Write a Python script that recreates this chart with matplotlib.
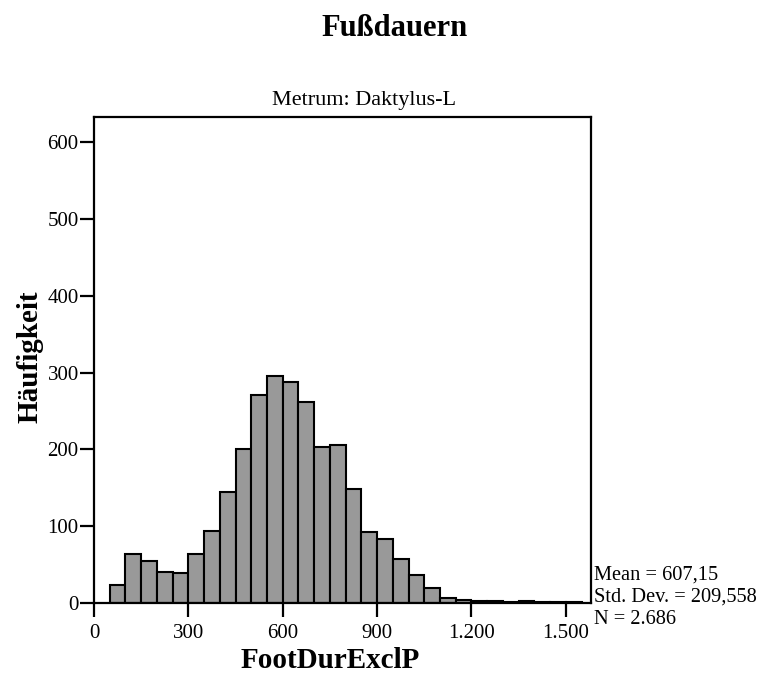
import matplotlib.pyplot as plt
from matplotlib.ticker import FuncFormatter

# Fußdauern, Metrum Daktylus-L: counts per 50 ms bin, starting at 50
binWidth = 50
binStart = 50
counts = [23, 64, 55, 41, 39, 64, 94, 145, 201, 271, 296, 288, 262, 203, 206,
          148, 92, 83, 57, 37, 20, 7, 4, 2, 3, 1, 3, 1, 1, 1]
xTicks = [0, 300, 600, 900, 1200, 1500]
yTicks = [0, 100, 200, 300, 400, 500, 600]
statsLines = ["Mean = 607,15", "Std. Dev. = 209,558", "N = 2.686"]

plt.rcParams["font.family"] = ["Liberation Serif", "DejaVu Serif"]

W, H = 767, 676
fig = plt.figure(figsize=(W / 100, H / 100), dpi=100)
ax = fig.add_axes([94 / W, 1 - 603 / H, (591 - 94) / W, (603 - 117) / H])

lefts = [binStart + i * binWidth for i in range(len(counts))]
ax.bar(lefts, counts, width=binWidth, align="edge", color="#999999",
       edgecolor="black", linewidth=1.5)

ax.set_xlim(0, 1580)
ax.set_ylim(0, 633)
ax.set_xticks(xTicks)
ax.set_yticks(yTicks)
ax.xaxis.set_major_formatter(FuncFormatter(lambda v, p: f"{int(v):,}".replace(",", ".")))
ax.tick_params(direction="out", length=10, width=1.6, labelsize=15)
ax.tick_params(axis="x", pad=5)
ax.tick_params(axis="y", pad=1)
for s in ax.spines.values():
    s.set_linewidth(1.6)

fig.text(395 / W, 1 - 28 / H, "Fußdauern", ha="center", va="center",
         fontsize=22, fontweight="bold")
fig.text(364 / W, 1 - 105 / H, "Metrum: Daktylus-L", ha="center", va="baseline",
         fontsize=16)
fig.text(30 / W, 1 - 357 / H, "Häufigkeit", ha="center", va="center",
         rotation=90, fontsize=21, fontweight="bold")
fig.text(330 / W, 1 - 660 / H, "FootDurExclP", ha="center", va="center",
         fontsize=21, fontweight="bold")
for i, line in enumerate(statsLines):
    fig.text(594 / W, 1 - (575 + 22 * i) / H, line, ha="left", va="center",
             fontsize=14.7)

fig.savefig("out.png", dpi=100)
